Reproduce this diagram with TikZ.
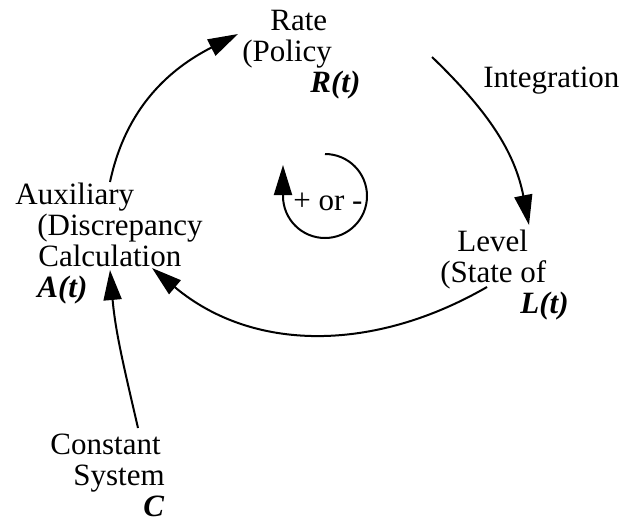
\documentclass[tikz,border=0pt]{standalone}
\usepackage{fontspec}
\setmainfont{Liberation Serif}
\usetikzlibrary{arrows.meta}

\begin{document}
\begin{tikzpicture}[
  x=0.5pt, y=0.5pt,
  lbl/.style = {
    inner sep=0pt, anchor=base west, align=left,
    font=\fontsize{15.5pt}{15.5pt}\selectfont
  },
  arr/.style = {-{Triangle[length=15pt,width=9pt]}, line width=1pt}
]
  \useasboundingbox (0,0) rectangle (625,-520);

  \node[lbl] (rate)  at (242,-92)  {\hspace*{14pt}Rate\\(Policy\\\hspace*{34pt}\textbf{\textit{R(t)}}};
  \node[lbl] (integ) at (483,-87)  {Integration};
  \node[lbl] (level) at (440,-313) {\hspace*{8.5pt}Level\\(State of\\\hspace*{40pt}\textbf{\textit{L(t)}}};
  \node[lbl] (aux)   at (15,-297)  {Auxiliary\\\hspace*{11pt}(Discrepancy\\\hspace*{11.5pt}Calculation\\\hspace*{11pt}\textbf{\textit{A(t)}}};
  \node[lbl] (const) at (50,-516)  {Constant\\\hspace*{11.5pt}System\\\hspace*{46.5pt}\textbf{\textit{C}}};
  \node[lbl] (sign)  at (293,-210) {+ or -};

  \draw[arr] ([shift={(95,115)}]aux.base west)  to[out=78, in=207]  ([shift={(-4,58)}]rate.base west);
  \draw[arr] ([shift={(190,35)}]rate.base west) to[out=-44, in=101] ([shift={(89,88)}]level.base west);
  \draw[arr] ([shift={(47,26)}]level.base west) to[out=210, in=-40] ([shift={(137,29)}]aux.base west);
  \draw[arr] ([shift={(88,88)}]const.base west) to[out=103, in=-85] ([shift={(95,27)}]aux.base west);

  % loop polarity
  \draw[arr] ([shift={(32,56)}]sign.base west) arc[start angle=90, end angle=-180, radius=21pt] -- ++(0,31);
\end{tikzpicture}
\end{document}
